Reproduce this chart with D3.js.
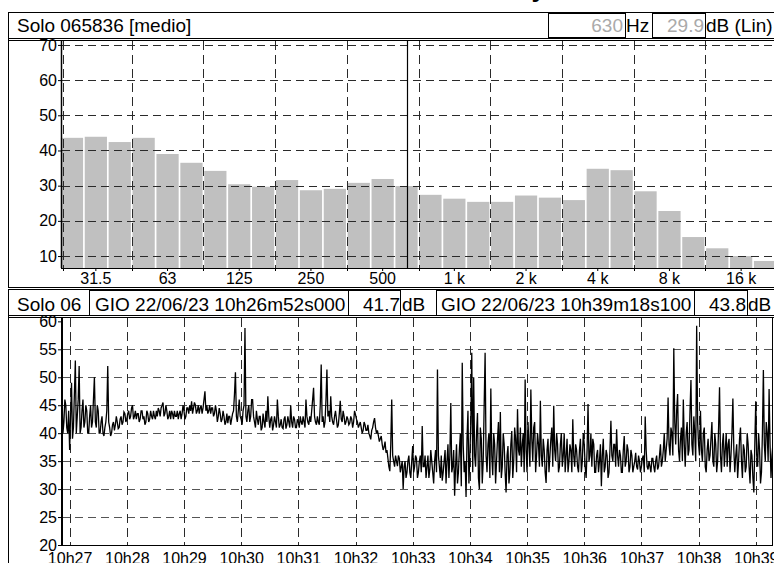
<!DOCTYPE html>
<html><head><meta charset="utf-8">
<script src="https://cdn.jsdelivr.net/npm/d3@7"></script>
<style>body{margin:0;background:#fff}svg{display:block;font-family:"Liberation Sans",Arial,sans-serif}</style>
</head><body><svg id="c" width="774" height="563"></svg>
<script>
// ---------- DATA ----------
const FREQ = ["25","31.5","40","50","63","80","100","125","160","200","250","315","400","500","630","800","1k","1.25k","1.6k","2k","2.5k","3.15k","4k","5k","6.3k","8k","10k","12.5k","16k","20k"];
const LEVELS = [43.6,43.9,42.4,43.6,39.0,36.5,34.2,30.4,29.7,31.6,28.7,29.1,30.8,31.9,29.9,27.4,26.3,25.4,25.4,27.2,26.6,25.9,34.8,34.4,28.4,22.8,15.4,12.2,10.0,8.6];
const FREQ_LABELS = {"31.5":"31.5","63":"63","125":"125","250":"250","500":"500","1k":"1 k","2k":"2 k","4k":"4 k","8k":"8 k","16k":"16 k"};
const SPEC_TICKS = [10,20,30,40,50,60,70];
const CURSOR_FREQ = "630";
const HIST_TICKS = [20,25,30,35,40,45,50,55,60];
const T_START = new Date(2023,5,22,10,26,52,0);
const T_END = new Date(2023,5,22,10,39,18,100);
const STEP_S = 1; // seconds between samples
const HIST = [
47,40,42,46,45,41,40,44,37,43,49,39,41,47,53,40,43,46,52,40,
41,44,46,41,42,45,44,40,40,43,45,41,42,46,50,42,41,45,44,40,
40,42,43,40,39.5,41,42,44,52,42,41,39.5,40,41.5,42,40.5,41.5,43,42,40.8,
41,42.5,43,41.5,42,43.8,43.5,42,42.5,43.5,44,42.5,43,44.5,45,42.5,43,44,42.5,43.5,
43.5,42,42.5,44,44,42.5,43,41.5,42,44,43.5,42,42.5,44,43,42.5,44,43,42.5,44,
43,44.5,44,43,44.5,45,45.5,43,43.5,45,44,42.5,43,44,42.5,44,43.5,42.5,44,43,
43,44,42.5,43.5,44,42.5,43.5,45,44,42.5,43,44.5,44.5,43.5,45,44,45.7,43.5,44.5,45.5,
45,43.5,44,45,43.5,44.5,45,43.5,44.5,46,47.5,44,45,43.5,44,45,43.5,44.5,44.5,43,
43.5,45,44,42,43,44.5,43.5,42,42.5,44,43,41.5,42,43.5,41.8,43,43,41.5,42.5,43.5,
44,47,50.9,43,42,44,46,43,42.5,41.5,44,45,58.8,43,42,44,45,42,43,46,
46,43,42,41,44,42.5,41.5,43,43,40.5,41,43.5,42,41,44,42,46.6,43,41,42.5,
43,40.5,41.5,43,42,41,46,43,41,41.5,42.5,41,40.8,42.5,43,40.8,41.5,43,42,41,
45,42,41,43,42.5,41,41,42.5,42,41,43,42,41.5,43,42,41,46,43,42,41.5,
43,42,44,46,48.1,43,42,41.5,43,42,41.5,45,52.3,42,43,41,42,46,51.4,43,
44,42,46.6,43,42,41.5,43,44,42.5,41,41.5,43.5,45.8,42.5,42,44,43,41.5,42,43,
42.5,41.5,41.8,43,42.5,41,42,44,43.3,42.5,42,41,41.5,42,41,40,40.5,42,41.5,40.5,
40.5,41.5,40,39.5,38.9,40.5,41,42,42.7,41,40,40.5,39.5,38.5,39,39.5,38,37,37.5,38.5,
36.5,37,35.5,34,33.2,38,46,36,35,34,36,35,34.1,36,35.5,33,34,35,30,34,
35,32,33,35,36,33,32,35,37.7,33,34,36,35.5,32,33,35,36,33,41.3,34,
34,36,32,34,36,32,33.5,37,35,33,31,35,37,33,51.4,36,34,32,36,31.5,
33,35,37,31,35,38,32,36,45.4,33,34,37,28.8,34,38,31,33,37,40,30.5,
52.6,38,33,35,28.6,39,44,31,36,42,54.4,33,50,36,34,40,43.6,32,30,41,
39,31,35,45,54.4,36,33,38,40,32,48,36,32.5,40,38,31,35,39,42,33,
43.8,32,34,40,38,33,29.4,36,37.7,31,33,38,40.4,32,35,41,39,33,44.3,37,
36,41,34,38,40,33,49.6,37,33,42,38,34,47.8,39,35,41,42,33,36,40,
38,34,45.8,36,34,39,37,33,31.1,37,39,33,36,39,41,34,44.9,37,35,40,
38,33,34,38,40,34,36,40,33,36,39,33,35,38,37,33,42.5,36,34,38,
37,34,33,37,39,33,35,40,38,34,32,37,45.2,35,36,40,34,39,38,33,
33,36,37,33,35,38,30.5,36,39,33,34,37,36,32,33,37,42.2,36,35,38,
38,34,40.7,36,34,37,36,33,33,37,39.5,34,35,38,37,33,34,37,36,33,
34,35,36.5,34,33.5,36,35,33,34,35.5,36,33,43,37,34,33.5,35,34,33,35.5,
35.5,34,33,35,36,33.5,34,36,38,34,35,37,40,35,37,39,46.4,38,36,41,
40,36,55.2,42,38,44,47,37,35,39,41,35,46,38,34,40,42,36,37,44,
49.5,38,36,43,40,35,59.2,42,38,36,44,37,35,40,41,34,33,37,39,35,
36,39,42,35,34,40,38,33,35,41,48.2,36,33,38,40,34,37,40,34,38,
39,33,36,40,46.2,37,33,36,38,32,35,39,41,35,32,38,37,33,34,40,
38,34,31,37,36,32,29.4,38,45.7,36,34,40,37,31,33,40,51.3,38,35,42,
40,35,47.9,38,32,36,38];

// ---------- DRAW ----------
const svg = d3.select("#c");
const FS_HEAD = 19, FS_TICK = 16;
const GRID = "#2a2a2a";

// title (clipped at top edge, only the descender shows)
svg.append("text").attr("x",546).attr("y",-3.5).attr("text-anchor","end")
  .attr("font-weight","bold").attr("font-size",26).text("Time History");

// ===== Top panel =====
svg.append("rect").attr("x",8.5).attr("y",12.5).attr("width",800).attr("height",275).attr("fill","none").attr("stroke","#000");
svg.append("line").attr("x1",8).attr("x2",774).attr("y1",38.5).attr("y2",38.5).attr("stroke","#000");
svg.append("line").attr("x1",8).attr("x2",774).attr("y1",40.5).attr("y2",40.5).attr("stroke","#000");
svg.append("text").attr("x",17).attr("y",32).attr("font-size",FS_HEAD).text("Solo 065836 [medio]");
function box(x,y,w,h){svg.append("rect").attr("x",x+0.5).attr("y",y+0.5).attr("width",w).attr("height",h).attr("fill","#fff").attr("stroke","#000");}
box(548,13,77,24);
svg.append("text").attr("x",623).attr("y",32).attr("text-anchor","end").attr("font-size",FS_HEAD).attr("fill","#aaa").text("630");
svg.append("text").attr("x",626).attr("y",32).attr("font-size",FS_HEAD).text("Hz");
box(652,13,53,24);
svg.append("text").attr("x",704).attr("y",32).attr("text-anchor","end").attr("font-size",FS_HEAD).attr("fill","#aaa").text("29.9");
svg.append("text").attr("x",706).attr("y",32).attr("font-size",FS_HEAD).text("dB (Lin)");

const xb = d3.scaleBand().domain(FREQ).range([60,777]).paddingInner(0.07).paddingOuter(0.035);
const ys = d3.scaleLinear().domain([6.6,71.4]).range([268,40]);
const step = xb.step();
const gTop = svg.append("g");
gTop.selectAll("rect.bar").data(FREQ).join("rect").attr("class","bar")
  .attr("x",d=>xb(d)).attr("width",xb.bandwidth())
  .attr("y",(d,i)=>ys(LEVELS[i])).attr("height",(d,i)=>268-ys(LEVELS[i])).attr("fill","#c0c0c0");
SPEC_TICKS.forEach(v=>{
  gTop.append("line").attr("x1",62).attr("x2",774).attr("y1",Math.round(ys(v))+0.5).attr("y2",Math.round(ys(v))+0.5)
    .attr("stroke",GRID).attr("stroke-dasharray","8,5");
});
FREQ.forEach((f,i)=>{ if(i%3===0){
  const x = i===0 ? 63.5 : Math.round(xb(f)-step*0.035)+0.5;
  gTop.append("line").attr("x1",x).attr("x2",x).attr("y1",41).attr("y2",268).attr("stroke",GRID).attr("stroke-dasharray","9,5");
  gTop.append("line").attr("x1",x).attr("x2",x).attr("y1",268).attr("y2",271).attr("stroke","#000");
}});
gTop.append("line").attr("x1",61.5).attr("x2",61.5).attr("y1",41).attr("y2",268).attr("stroke","#000").attr("stroke-width",1.5);
gTop.append("line").attr("x1",61).attr("x2",774).attr("y1",268.5).attr("y2",268.5).attr("stroke","#000");
const ayTop = d3.axisLeft(ys).tickValues(SPEC_TICKS).tickSize(3).tickFormat(d3.format("d"));
gTop.append("g").attr("transform","translate(61,0)").call(ayTop)
  .call(g=>{g.select(".domain").remove();g.selectAll("text").attr("font-size",FS_TICK).attr("font-family",null).attr("fill","#000").attr("x",-4);g.selectAll("line").attr("stroke","#000");});
const axTop = d3.axisBottom(xb).tickValues(Object.keys(FREQ_LABELS)).tickSize(3).tickFormat(d=>FREQ_LABELS[d]);
gTop.append("g").attr("transform","translate(0,268)").call(axTop)
  .call(g=>{g.select(".domain").remove();g.selectAll("text").attr("font-size",FS_TICK).attr("font-family",null).attr("fill","#000").attr("y",5);g.selectAll("line").attr("stroke","#000");});
const cx = Math.round(xb(CURSOR_FREQ)+xb.bandwidth()/2)+0.5;
gTop.append("line").attr("x1",cx).attr("x2",cx).attr("y1",41).attr("y2",268).attr("stroke","#000").attr("stroke-width",1.2);

// ===== Bottom panel =====
svg.append("rect").attr("x",8.5).attr("y",289.5).attr("width",800).attr("height",300).attr("fill","none").attr("stroke","#000");
svg.append("line").attr("x1",8).attr("x2",774).attr("y1",315.5).attr("y2",315.5).attr("stroke","#000");
svg.append("line").attr("x1",8).attr("x2",774).attr("y1",317.5).attr("y2",317.5).attr("stroke","#000");
svg.append("text").attr("x",17).attr("y",311).attr("font-size",FS_HEAD).text("Solo 06");
box(89,290,259,25);
svg.append("text").attr("x",95).attr("y",311).attr("font-size",FS_HEAD).text("GIO 22/06/23 10h26m52s000");
box(348,290,52,25);
svg.append("text").attr("x",400).attr("y",311).attr("text-anchor","end").attr("font-size",FS_HEAD).text("41.7");
svg.append("text").attr("x",402).attr("y",311).attr("font-size",FS_HEAD).text("dB");
box(436,290,258,25);
svg.append("text").attr("x",441).attr("y",311).attr("font-size",FS_HEAD).text("GIO 22/06/23 10h39m18s100");
box(694,290,53,25);
svg.append("text").attr("x",746).attr("y",311).attr("text-anchor","end").attr("font-size",FS_HEAD).text("43.8");
svg.append("text").attr("x",748).attr("y",311).attr("font-size",FS_HEAD).text("dB");

const xt = d3.scaleTime().domain([T_START,T_END]).range([62,773]);
const yh = d3.scaleLinear().domain([20,60.6]).range([545,318]);
const gB = svg.append("g");
HIST_TICKS.filter(v=>v>20&&v<60).forEach(v=>{
  const y = Math.round(yh(v))+0.5;
  gB.append("line").attr("x1",62).attr("x2",773).attr("y1",y).attr("y2",y).attr("stroke","#555").attr("stroke-dasharray","8,5");
});
const minutes = d3.timeMinute.range(d3.timeMinute.ceil(T_START), T_END);
minutes.forEach(m=>{
  const x = Math.round(xt(m))+0.5;
  gB.append("line").attr("x1",x).attr("x2",x).attr("y1",318).attr("y2",545).attr("stroke",GRID).attr("stroke-dasharray","9,5");
});
gB.append("defs").append("clipPath").attr("id","cp").append("rect").attr("x",62).attr("y",318).attr("width",711).attr("height",227);
const pts = HIST.map((v,i)=>({t:new Date(T_START.getTime()+i*STEP_S*1000),v}));
gB.append("path").datum(pts).attr("clip-path","url(#cp)")
  .attr("d",d3.line().x(d=>xt(d.t)).y(d=>yh(d.v)))
  .attr("fill","none").attr("stroke","#000").attr("stroke-width",1.3);
gB.append("line").attr("x1",62).attr("x2",62).attr("y1",318).attr("y2",545).attr("stroke","#000").attr("stroke-width",2);
gB.append("line").attr("x1",61).attr("x2",773).attr("y1",545.5).attr("y2",545.5).attr("stroke","#000");
gB.append("line").attr("x1",772.5).attr("x2",772.5).attr("y1",318).attr("y2",545).attr("stroke","#000");
const ayB = d3.axisLeft(yh).tickValues(HIST_TICKS).tickSize(3).tickFormat(d3.format("d"));
gB.append("g").attr("transform","translate(61,0)").call(ayB)
  .call(g=>{g.select(".domain").remove();g.selectAll("text").attr("font-size",FS_TICK).attr("font-family",null).attr("fill","#000").attr("x",-4);g.selectAll("line").attr("stroke","#000");});
const axB = d3.axisBottom(xt).tickValues(minutes).tickSize(0).tickFormat(d3.timeFormat("%Hh%M"));
gB.append("g").attr("transform","translate(0,545)").call(axB)
  .call(g=>{g.select(".domain").remove();g.selectAll("text").attr("font-size",FS_TICK).attr("font-family",null).attr("fill","#000").attr("y",8);});
</script></body></html>
